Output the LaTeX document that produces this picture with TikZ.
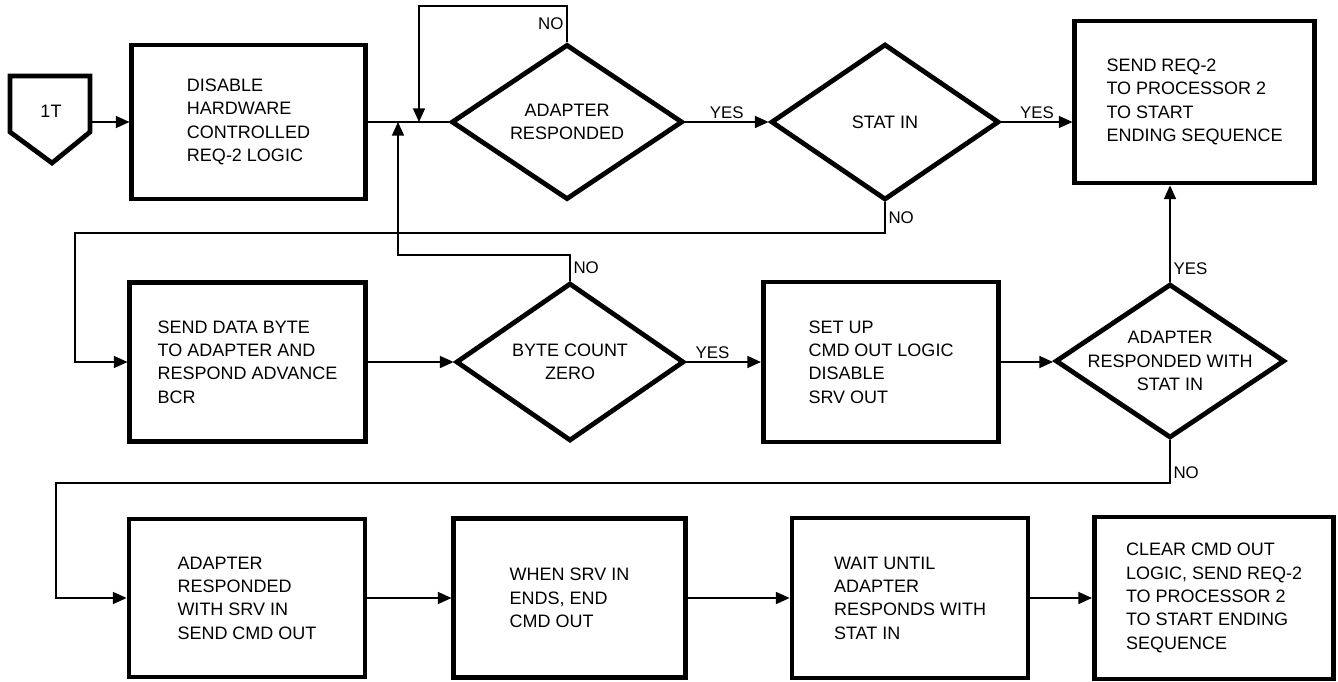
\documentclass[tikz,border=0pt]{standalone}
\usepackage{fontspec}
\setmainfont{Liberation Sans}
\usetikzlibrary{arrows.meta,shapes.geometric}
\newcommand{\boxfont}{\fontsize{12.8}{16.6}\selectfont}
\newcommand{\tagfont}{\fontsize{12}{13}\selectfont}

\begin{document}
\begin{tikzpicture}[x=0.025cm,y=-0.025cm,
  box/.style={draw,line width=3.4pt,align=left,inner sep=0pt,font=\boxfont},
  dec/.style={draw,diamond,line width=3.4pt,inner sep=0pt,aspect=1.5},
  dtext/.style={align=center,font=\boxfont},
  flow/.style={line width=1pt,-{Triangle[length=0.34cm,width=0.3cm]}},
  lbl/.style={font=\tagfont,inner sep=2pt}]
 \useasboundingbox (0,0) rectangle (1338,682);
 % first row
 \draw[line width=3.4pt] (10,76) -- (90,76) -- (90,132) -- (52,163) -- (10,132) -- cycle;
 \node[font=\boxfont] (start) at (51,111) {1T};
 \coordinate (startout) at (90,122);
 \node[box,minimum width=5.83cm,minimum height=3.85cm] (hwoff) at (248.5,122)
   {DISABLE\\HARDWARE\\CONTROLLED\\REQ-2 LOGIC};
 \node[dec,minimum width=5.78cm,minimum height=3.88cm,
   label={[dtext]center:ADAPTER\\RESPONDED}] (resp) at (567,122) {};
 \node[dec,minimum width=5.7cm,minimum height=3.9cm,
   label={[dtext]center:STAT IN}] (statin) at (885,122) {};
 \node[box,minimum width=5.98cm,minimum height=4.05cm] (sendreq) at (1194.5,102)
   {SEND REQ-2\\TO PROCESSOR 2\\TO START\\ENDING SEQUENCE};
 % second row
 \node[box,minimum width=5.88cm,minimum height=3.98cm] (senddata) at (247.5,362)
   {SEND DATA BYTE\\TO ADAPTER AND\\RESPOND ADVANCE\\BCR};
 \node[dec,minimum width=5.7cm,minimum height=3.95cm,
   label={[dtext]center:BYTE COUNT\\ZERO}] (bytecnt) at (570,362) {};
 \node[box,minimum width=5.88cm,minimum height=4cm] (setup) at (881,362)
   {SET UP\\CMD OUT LOGIC\\DISABLE\\SRV OUT};
 \node[dec,minimum width=5.73cm,minimum height=3.85cm,
   label={[dtext]center:ADAPTER\\RESPONDED WITH\\STAT IN}] (respstat) at (1170,361) {};
 % third row
 \node[box,minimum width=5.9cm,minimum height=3.95cm] (srvin) at (247,598)
   {ADAPTER\\RESPONDED\\WITH SRV IN\\SEND CMD OUT};
 \node[box,minimum width=5.78cm,minimum height=3.98cm] (srvend) at (569.5,598)
   {WHEN SRV IN\\ENDS, END\\CMD OUT};
 \node[box,minimum width=5.9cm,minimum height=4cm] (waitstat) at (910,598)
   {WAIT UNTIL\\ADAPTER\\RESPONDS WITH\\STAT IN};
 \node[box,minimum width=5.98cm,minimum height=4.05cm] (clear) at (1214,598)
   {CLEAR CMD OUT\\LOGIC, SEND REQ-2\\TO PROCESSOR 2\\TO START ENDING\\SEQUENCE};

 \coordinate (j1) at (419,122);
 \coordinate (j2) at (398,122);
 \coordinate (c1) at (75,233);
 \coordinate (c2) at (56,483);

 \draw[flow] (startout) -- (hwoff.west);
 \draw[line width=1pt] (hwoff.east) -- (resp.west);
 \draw[flow] (resp.north) -- node[lbl,left] (no1) {NO} (resp.north |- 0,6) -| (j1);
 \draw[flow] (bytecnt.north) -- node[lbl,right] (no3) {NO} (bytecnt.north |- 0,255) -| (j2);
 \draw[flow] (resp.east) -- node[lbl,above] (yes1) {YES} (statin.west);
 \draw[flow] (statin.east) -- node[lbl,above] (yes2) {YES} (statin.east -| sendreq.west);
 \draw[flow] (statin.south) -- node[lbl,right] (no2) {NO} (statin.south |- c1) -- (c1) |- (senddata.west);
 \draw[flow] (senddata.east) -- (bytecnt.west);
 \draw[flow] (bytecnt.east) -- node[lbl,above,pos=0.35] (yes3) {YES} (setup.west);
 \draw[flow] (setup.east) -- (setup.east -| respstat.west);
 \draw[flow] (respstat.north) -- node[lbl,right,pos=0.13] (yes4) {YES} (respstat.north |- sendreq.south);
 \draw[flow] (respstat.south) -- node[lbl,right,pos=0.75] (no4) {NO} (respstat.south |- c2) -- (c2) |- (srvin.west);
 \draw[flow] (srvin.east) -- (srvend.west);
 \draw[flow] (srvend.east) -- (waitstat.west);
 \draw[flow] (waitstat.east) -- (clear.west);
\end{tikzpicture}
\end{document}
